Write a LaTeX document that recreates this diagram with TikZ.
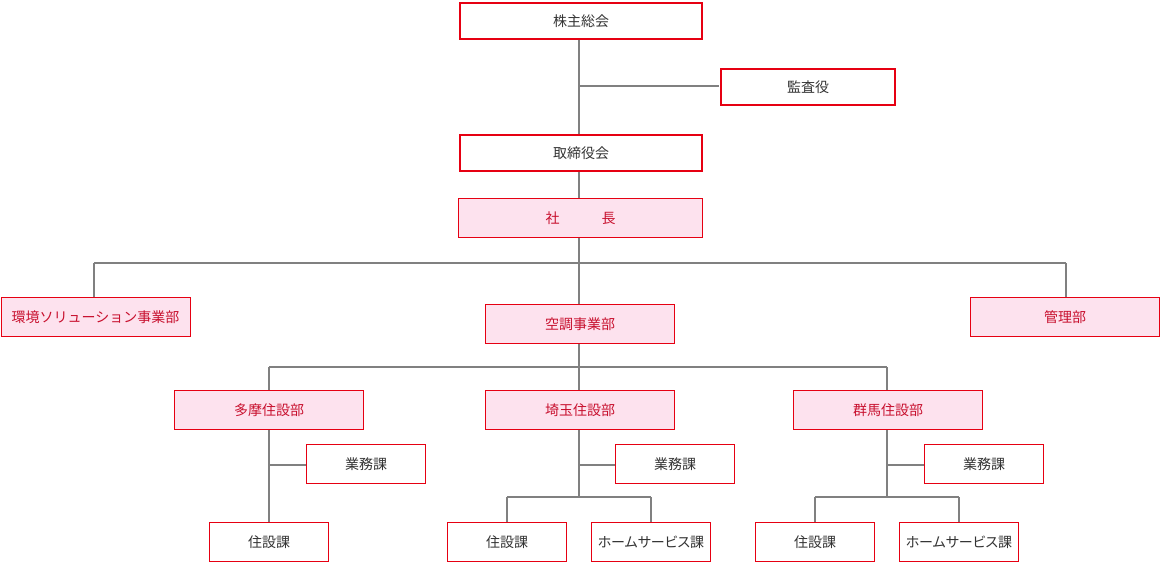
\documentclass[tikz,border=0pt]{standalone}
\usepackage{fontspec}
\setmainfont{Noto Sans CJK JP}
\definecolor{boxred}{HTML}{E60012}
\definecolor{pinkfill}{HTML}{FDE2EE}
\definecolor{redtext}{HTML}{C8102E}
\definecolor{linegray}{HTML}{808080}
\definecolor{darktext}{HTML}{333333}
\tikzset{
  base/.style={draw=boxred, anchor=north west, inner sep=0pt, font=\fontsize{14}{14}\selectfont},
  topbox/.style={base, line width=2pt, fill=white, text=darktext},
  whitebox/.style={base, line width=1pt, fill=white, text=darktext},
  pinkbox/.style={base, line width=1pt, fill=pinkfill, text=redtext},
  conn/.style={draw=linegray, line width=1.2pt}
}
\begin{document}
\begin{tikzpicture}[x=1pt,y=-1pt]
\useasboundingbox (0,0) rectangle (1160,562);
% connectors first
\coordinate (j1) at (579,86);
\coordinate (j2) at (579,263);
\coordinate (jl) at (94,263);
\coordinate (jr) at (1066,263);
\coordinate (j3) at (579,367);
\coordinate (j3l) at (269,367);
\coordinate (j3r) at (887,367);
\coordinate (ta) at (269,465);
\coordinate (sa) at (579,465);
\coordinate (ga) at (887,465);
\coordinate (sb) at (579,497);
\coordinate (sbl) at (507,497);
\coordinate (sbr) at (651,497);
\coordinate (gb) at (887,497);
\coordinate (gbl) at (815,497);
\coordinate (gbr) at (959,497);
\draw[conn] (579,39) -- (579,198);
\draw[conn] (j1) -- (719,86);
\draw[conn] (579,237) -- (j2);
\draw[conn] (jl) -- (jr);
\draw[conn] (jl) -- (94,297);
\draw[conn] (jr) -- (1066,297);
\draw[conn] (j2) -- (579,304);
\draw[conn] (579,343) -- (j3);
\draw[conn] (j3l) -- (j3r);
\draw[conn] (j3l) -- (269,390);
\draw[conn] (j3) -- (579,390);
\draw[conn] (j3r) -- (887,390);
\draw[conn] (269,429) -- (269,522);
\draw[conn] (ta) -- (306,465);
\draw[conn] (579,429) -- (sb);
\draw[conn] (sa) -- (615,465);
\draw[conn] (sbl) -- (sbr);
\draw[conn] (sbl) -- (507,522);
\draw[conn] (sbr) -- (651,522);
\draw[conn] (887,429) -- (gb);
\draw[conn] (ga) -- (924,465);
\draw[conn] (gbl) -- (gbr);
\draw[conn] (gbl) -- (815,522);
\draw[conn] (gbr) -- (959,522);
% boxes
\node[topbox, minimum width=242pt, minimum height=36pt] (kabu) at (459,2) {株主総会};
\node[topbox, minimum width=174pt, minimum height=36pt] (kansa) at (720,68) {監査役};
\node[topbox, minimum width=242pt, minimum height=36pt] (tori) at (459,134) {取締役会};
\node[pinkbox, minimum width=244pt, minimum height=39pt] (sha) at (458,198) {社\hspace{3em}長};
\node[pinkbox, minimum width=189pt, minimum height=39pt] (kankyo) at (0.5,297) {環境ソリューション事業部};
\node[pinkbox, minimum width=189pt, minimum height=39pt] (kanri) at (970,297) {管理部};
\node[pinkbox, minimum width=189pt, minimum height=39pt] (kucho) at (485,304) {空調事業部};
\node[pinkbox, minimum width=189pt, minimum height=39pt] (tama) at (174,390) {多摩住設部};
\node[pinkbox, minimum width=189pt, minimum height=39pt] (sai) at (485,390) {埼玉住設部};
\node[pinkbox, minimum width=189pt, minimum height=39pt] (gun) at (793,390) {群馬住設部};
\node[whitebox, minimum width=119pt, minimum height=39pt] (tgyo) at (306,444) {業務課};
\node[whitebox, minimum width=119pt, minimum height=39pt] (sgyo) at (615,444) {業務課};
\node[whitebox, minimum width=119pt, minimum height=39pt] (ggyo) at (924,444) {業務課};
\node[whitebox, minimum width=119pt, minimum height=39pt] (tju) at (209,522) {住設課};
\node[whitebox, minimum width=119pt, minimum height=39pt] (sju) at (447,522) {住設課};
\node[whitebox, minimum width=119pt, minimum height=39pt] (shome) at (591,522) {\addfontfeature{RawFeature=+palt}ホームサービス課};
\node[whitebox, minimum width=119pt, minimum height=39pt] (gju) at (755,522) {住設課};
\node[whitebox, minimum width=119pt, minimum height=39pt] (ghome) at (899,522) {\addfontfeature{RawFeature=+palt}ホームサービス課};
\end{tikzpicture}
\end{document}
